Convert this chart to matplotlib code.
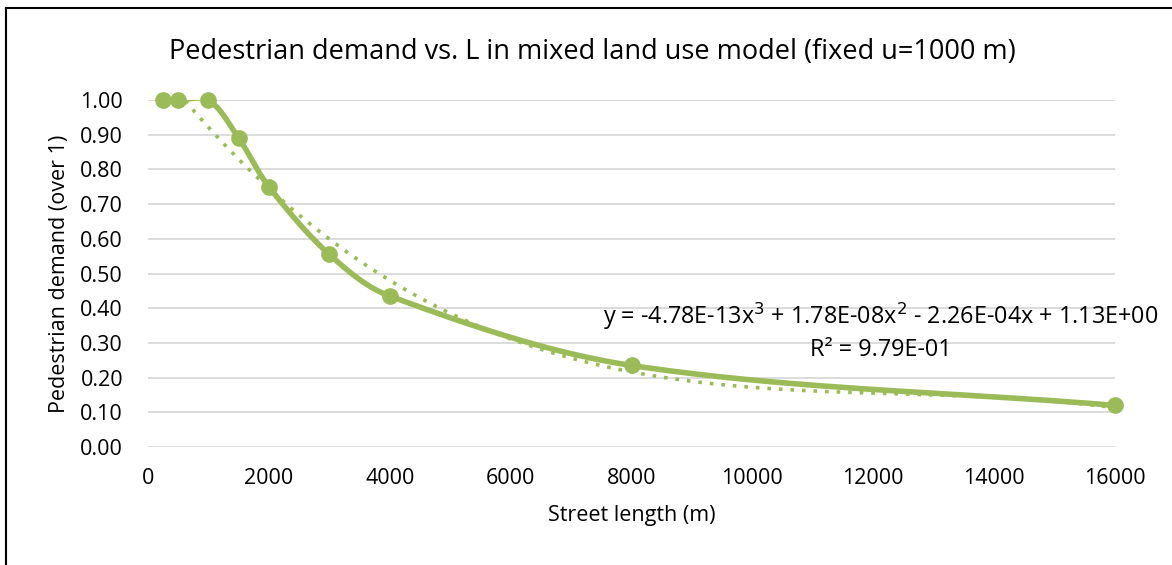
import numpy as np
import matplotlib.pyplot as plt
from matplotlib.lines import Line2D

plt.rcParams['font.family'] = ['Open Sans', 'DejaVu Sans']

# data
street_length = [250, 500, 1000, 1500, 2000, 3000, 4000, 8000, 16000]
demand = [1.00, 1.00, 1.00, 0.89, 0.75, 0.555, 0.435, 0.235, 0.12]
trend_coef = [-4.78e-13, 1.78e-08, -2.26e-04, 1.13]
x_ticks = [0, 2000, 4000, 6000, 8000, 10000, 12000, 14000, 16000]
y_ticks = [0.0, 0.1, 0.2, 0.3, 0.4, 0.5, 0.6, 0.7, 0.8, 0.9, 1.0]

green = '#9BBB59'


def smooth_curve(xs, ys, sx=967 / 16000, sy=347.0, n=40):
    # bezier through points, tangents weighted by chord length on screen
    P = np.column_stack([np.asarray(xs, float) * sx, np.asarray(ys, float) * sy])
    m = len(P)
    out = []
    for i in range(m - 1):
        p0 = P[i - 1] if i > 0 else P[i]
        p1, p2 = P[i], P[i + 1]
        p3 = P[i + 2] if i + 2 < m else P[i + 1]
        d01 = np.linalg.norm(p1 - p0)
        d12 = np.linalg.norm(p2 - p1)
        d23 = np.linalg.norm(p3 - p2)
        c1 = p1 + (p2 - p0) * (d12 / (d01 + d12)) / 3 if d01 > 0 else p1 + (p2 - p1) / 3
        c2 = p2 - (p3 - p1) * (d12 / (d12 + d23)) / 3 if d23 > 0 else p2 - (p2 - p1) / 3
        t = np.linspace(0, 1, n)[:, None]
        out.append((1 - t) ** 3 * p1 + 3 * (1 - t) ** 2 * t * c1 + 3 * (1 - t) * t ** 2 * c2 + t ** 3 * p2)
    out = np.vstack(out)
    return out[:, 0] / sx, out[:, 1] / sy


fig = plt.figure(figsize=(11.72, 5.65), dpi=100)
ax = fig.add_axes([148 / 1172, 1 - 447 / 565, 967 / 1172, 347 / 565])

# trendline (clipped at the axis top)
tx = np.linspace(street_length[0], street_length[-1], 400)
ty = np.polyval(trend_coef, tx)
ax.plot(tx, ty, color=green, linestyle=(0, (1, 2.2)), linewidth=2.6, zorder=2)

cx, cy = smooth_curve(street_length, demand)
ax.plot(cx, cy, color=green, linewidth=4, zorder=3, solid_capstyle='round')
ax.plot(street_length, demand, 'o', color=green, markersize=11, zorder=4, clip_on=False)

ax.set_xlim(0, 16000)
ax.set_ylim(0, 1.0)
ax.set_xticks(x_ticks)
ax.set_yticks(y_ticks)
ax.set_yticklabels([f'{v:.2f}' for v in y_ticks])
ax.grid(axis='y', color='#D9D9D9', linewidth=1.3)
ax.set_axisbelow(True)
for s in ax.spines.values():
    s.set_visible(False)
ax.tick_params(length=0, labelsize=15.5, colors='#000000')
ax.tick_params(axis='x', pad=15)
ax.tick_params(axis='y', pad=18)

fig.text(592 / 1172, 1 - 52 / 565,
         'Pedestrian demand vs. L in mixed land use model (fixed u=1000 m)',
         fontsize=19.5, ha='center', va='center')
ax.set_xlabel('Street length (m)', fontsize=15.5, labelpad=12)
ax.set_ylabel('Pedestrian demand (over 1)', fontsize=15.5, labelpad=7)

ax.text(16720, 0.375, 'y = -4.78E-13x$^3$ + 1.78E-08x$^2$ - 2.26E-04x + 1.13E+00',
        ha='right', va='center', fontsize=16.8)
ax.text(12120, 0.28, 'R² = 9.79E-01', ha='center', va='center', fontsize=16.8)

# chart border (only left and top are inside the picture)
fig.add_artist(Line2D([6 / 1172, 6 / 1172], [0, 1 - 8 / 565], color='black', linewidth=1.5))
fig.add_artist(Line2D([6 / 1172, 1], [1 - 8 / 565, 1 - 8 / 565], color='black', linewidth=1.5))

fig.savefig('out.png', dpi=100)
